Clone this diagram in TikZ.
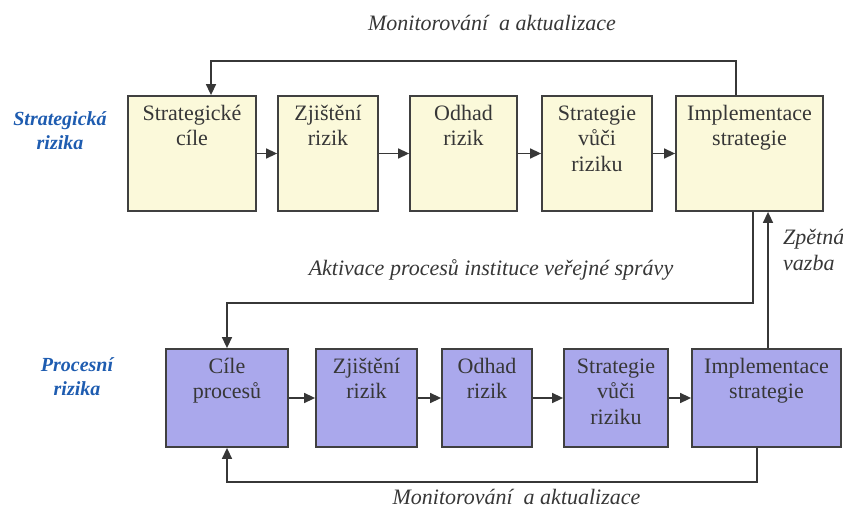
\documentclass[tikz,border=0pt]{standalone}
\usepackage{fontspec}
\setmainfont{Liberation Serif}
\newfontfamily\tms{Liberation Serif}
\usetikzlibrary{arrows.meta,calc}
\definecolor{ybox}{RGB}{251,249,218}
\definecolor{pbox}{RGB}{170,168,236}
\definecolor{edge}{RGB}{64,64,64}
\definecolor{ink}{RGB}{55,55,55}
\definecolor{lblue}{RGB}{30,92,176}
\begin{document}
\begin{tikzpicture}[x=1pt,y=-1pt,
  boxbase/.style={draw=edge,line width=1.8pt,rectangle,inner sep=0pt},
  topbox/.style={boxbase,fill=ybox,minimum height=115pt},
  botbox/.style={boxbase,fill=pbox,minimum height=98pt},
  boxtext/.style={anchor=north,inner sep=0pt,align=center,text=ink,font=\tms\fontsize{22}{25.5}\selectfont},
  lbl/.style={inner sep=0pt,align=left,text=ink,font=\tms\fontsize{22}{26}\selectfont\itshape},
  sidelbl/.style={inner sep=0pt,align=center,text=lblue,font=\tms\fontsize{20}{24}\selectfont\bfseries\itshape},
  arr/.style={draw=ink,line width=1.5pt,-{Triangle[length=11pt,width=10pt]}}]
\useasboundingbox (0,0) rectangle (843,508);

% top row
\node[topbox,minimum width=128pt] (t1) at (192,153.5) {};
\node[topbox,minimum width=100pt] (t2) at (328,153.5) {};
\node[topbox,minimum width=107pt] (t3) at (463.5,153.5) {};
\node[topbox,minimum width=110pt] (t4) at (597,153.5) {};
\node[topbox,minimum width=147pt] (t5) at (749.5,153.5) {};
\node[boxtext] (t1l) at (t1.north) {\rule{0pt}{25pt}Strategické\\cíle};
\node[boxtext] (t2l) at (t2.north) {\rule{0pt}{25pt}Zjištění\\rizik};
\node[boxtext] (t3l) at (t3.north) {\rule{0pt}{25pt}Odhad\\rizik};
\node[boxtext] (t4l) at (t4.north) {\rule{0pt}{25pt}Strategie\\vůči\\riziku};
\node[boxtext] (t5l) at (t5.north) {\rule{0pt}{25pt}Implementace\\strategie};

% bottom row
\node[botbox,minimum width=122pt] (b1) at (227,398) {};
\node[botbox,minimum width=101pt] (b2) at (366.5,398) {};
\node[botbox,minimum width=90pt] (b3) at (487,398) {};
\node[botbox,minimum width=104pt] (b4) at (616,398) {};
\node[botbox,minimum width=149pt] (b5) at (766.5,398) {};
\node[boxtext] (b1l) at (b1.north) {\rule{0pt}{25pt}Cíle\\procesů};
\node[boxtext] (b2l) at (b2.north) {\rule{0pt}{25pt}Zjištění\\rizik};
\node[boxtext] (b3l) at (b3.north) {\rule{0pt}{25pt}Odhad\\rizik};
\node[boxtext] (b4l) at (b4.north) {\rule{0pt}{25pt}Strategie\\vůči\\riziku};
\node[boxtext] (b5l) at (b5.north) {\rule{0pt}{25pt}Implementace\\strategie};

% row arrows
\draw[arr] (t1) -- (t2);
\draw[arr] (t2) -- (t3);
\draw[arr] (t3) -- (t4);
\draw[arr] (t4) -- (t5);
\draw[arr] (b1) -- (b2);
\draw[arr] (b2) -- (b3);
\draw[arr] (b3) -- (b4);
\draw[arr] (b4) -- (b5);

% loop levels and ports
\coordinate (yt) at (0,61);
\coordinate (ya) at (0,303);
\coordinate (yb) at (0,482);
\coordinate (p1) at ([xshift=-13.5pt]t5.north);
\coordinate (q1) at ([xshift=19pt]t1.north);
\coordinate (p2) at ([xshift=3.5pt]t5.south);
\coordinate (p3) at ([xshift=1.5pt]b5.north);
\coordinate (q3) at ([xshift=18.5pt]t5.south);
\coordinate (p4) at ([xshift=-9.5pt]b5.south);

% loops
\draw[arr] (p1) -- (p1 |- yt) -| (q1);
\draw[arr] (p2) -- (p2 |- ya) -| (b1.north);
\draw[arr] (p3) -- (q3);
\draw[arr] (p4) -- (p4 |- yb) -| (b1.south);

% labels
\node[lbl] (mon1) at (492,23) {Monitorování \ a aktualizace};
\node[lbl] (akt) at (491,270) {Aktivace procesů instituce veřejné správy};
\node[lbl] (mon2) at (516.5,497) {Monitorování \ a aktualizace};
\node[lbl,anchor=west] (zv) at (783,250) {Zpětná\\vazba};
\node[sidelbl] (sr) at (60,131) {Strategická\\rizika};
\node[sidelbl] (pr) at (77,377) {Procesní\\rizika};
\end{tikzpicture}
\end{document}
